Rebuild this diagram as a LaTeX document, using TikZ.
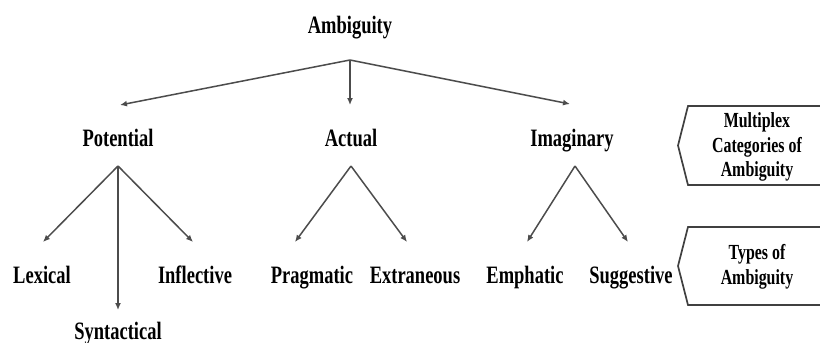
\documentclass[tikz,border=0pt]{standalone}
\usepackage{fontspec}
\setmainfont{Liberation Serif}[FakeStretch=0.74]
\usetikzlibrary{arrows.meta}
\begin{document}
\begin{tikzpicture}[x=1pt,y=-1pt,
  lbl/.style={font=\fontsize{25}{30}\selectfont\bfseries, inner sep=0pt, anchor=base},
  side/.style={font=\fontsize{21.5}{24.5}\selectfont\bfseries, align=center, inner sep=0pt},
  conn/.style={draw=black!70, line width=1.5pt, -{Latex[length=7pt,width=6pt]}},
  tag/.style={draw=black!75, line width=1.7pt}]
\useasboundingbox (0,0) rectangle (820,343);
\clip (0,0) rectangle (820,343);
% labels
\node[lbl] (amb) at (350,33) {Ambiguity};
\node[lbl] (pot) at (118,146) {Potential};
\node[lbl] (act) at (351,146) {Actual};
\node[lbl] (ima) at (572,146) {Imaginary};
\node[lbl] (lex) at (42,283) {Lexical};
\node[lbl] (syn) at (118,339) {Syntactical};
\node[lbl] (inf) at (195,283) {Inflective};
\node[lbl] (pra) at (312,283) {Pragmatic};
\node[lbl] (ext) at (415,283) {Extraneous};
\node[lbl] (emp) at (525,283) {Emphatic};
\node[lbl] (sug) at (631,283) {Suggestive};
% junctions and arrow tips
\coordinate (ambJ) at (350,60);
\coordinate (potT) at (120,105);
\coordinate (actT) at (350,105);
\coordinate (imaT) at (570,104);
\coordinate (potJ) at (118,166);
\coordinate (actJ) at (351,166);
\coordinate (imaJ) at (575,166);
\coordinate (lexT) at (43,242);
\coordinate (synT) at (118,310);
\coordinate (infT) at (193,242);
\coordinate (praT) at (295,242);
\coordinate (extT) at (407,242);
\coordinate (empT) at (527,242);
\coordinate (sugT) at (628,242);
% connectors
\draw[conn] (ambJ) -- (potT);
\draw[conn] (ambJ) -- (actT);
\draw[conn] (ambJ) -- (imaT);
\draw[conn] (potJ) -- (lexT);
\draw[conn] (potJ) -- (synT);
\draw[conn] (potJ) -- (infT);
\draw[conn] (actJ) -- (praT);
\draw[conn] (actJ) -- (extT);
\draw[conn] (imaJ) -- (empT);
\draw[conn] (imaJ) -- (sugT);
% side tags
\draw[tag] (830,106) -- (688,106) -- (678,145.5) -- (688,185) -- (830,185);
\node[side] (multi) at (757,147) {Multiplex\\Categories of\\Ambiguity};
\draw[tag] (830,227) -- (688,227) -- (678,266) -- (688,305) -- (830,305);
\node[side] (types) at (757,267) {Types of\\Ambiguity};
\end{tikzpicture}
\end{document}
